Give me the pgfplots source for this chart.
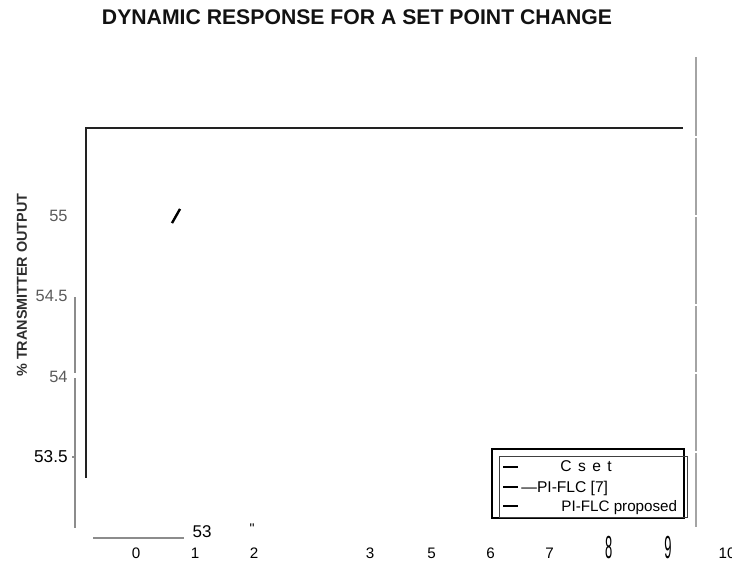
\documentclass[border=0pt]{standalone}
\usepackage{fontspec}
\setmainfont{Liberation Sans}
\usepackage{graphicx}
\usepackage{pgfplots}
\pgfplotsset{compat=1.18}

\definecolor{stepblack}{HTML}{222222}
\definecolor{framegray}{HTML}{8C8C8C}
\definecolor{framelight}{HTML}{A4A4A4}
\definecolor{ticktext}{HTML}{5A5A5A}

% Set point (Cset) trace
\pgfplotstableread{
t y
-0.846 53.369
-0.846 55.548
9.256 55.548
}\csettable

% Visible fragment of the PI-FLC [7] response
\pgfplotstableread{
t y
0.609 54.956
0.745 55.044
}\piflctable

\begin{document}
\begin{tikzpicture}
\begin{axis}[
  scale only axis,
  width=366pt, height=281.5pt,
  xmin=-2.3012, xmax=10.0846,
  ymin=52.8394, ymax=56.3450,
  axis line style={draw=none},
  major tick length=0pt,
  clip=false,
  xtick={0,1,2,3.96,5,6,7,8,9,10},
  xticklabels={0,1,2,3,5,6,7,{\scalebox{0.85}[2.1]{8}},{\scalebox{0.85}[2.1]{9}},10},
  xticklabel style={anchor=base, inner sep=0pt, yshift=2.5pt,
    font=\fontsize{7.6}{9}\selectfont},
  ytick={53.5,54,54.5,55},
  yticklabels={{\fontsize{8.6}{10}\selectfont 53.5},{\color{ticktext}54},{\color{ticktext}54.5},{\color{ticktext}55}},
  yticklabel style={anchor=east, inner sep=0pt, xshift=34pt,
    font=\fontsize{8.2}{10}\selectfont},
  ylabel={\% TRANSMITTER OUTPUT},
  ylabel style={at={(axis description cs:0.0301,0.4938)}, anchor=center,
    rotate=0, inner sep=0pt, font=\bfseries\fontsize{7.2}{8}\selectfont,
    text=black!82},
]
\addplot[stepblack, line width=1.1pt, no marks] table[x=t, y=y] {\csettable};
\addplot[black, line width=1.2pt, no marks] table[x=t, y=y] {\piflctable};
\end{axis}

% title, frame remnants, stray labels and legend, in a 0.5pt grid from the top left corner
\begin{scope}[shift={(current axis.north west)}, x=0.5pt, y=-0.5pt]
  \node[anchor=base, inner sep=0pt, font=\bfseries\fontsize{10.6}{12}\selectfont,
    text=black!93] at (357,24) {DYNAMIC RESPONSE FOR A SET POINT CHANGE};
  % right-hand rule, broken at the grid levels
  \foreach \a/\b in {57/136,138/215,217/304,306/372,374/451,453/527}
    \draw[framelight, line width=0.8pt] (696,\a) -- (696,\b);
  % left-hand rule with a notch at 53.5
  \draw[framegray, line width=0.6pt] (75,297) -- (75,373);
  \draw[framegray, line width=0.6pt] (75,378) -- (75,528);
  \draw[framegray, line width=0.6pt] (72,457) -- (75,457);
  % bottom rule piece
  \draw[framegray, line width=0.6pt] (93,538) -- (184,538);
  % stray labels near the time axis
  \node[anchor=base, inner sep=0pt, font=\fontsize{8.5}{10}\selectfont] at (202,537) {53};
  \node[anchor=base, inner sep=0pt, font=\fontsize{7}{8}\selectfont] at (252,533) {\textquotedbl};
  % legend
  \draw[black, line width=1pt] (492,449) rectangle (684,518);
  \draw[black!75, line width=0.5pt] (499,456) rectangle (687,517);
  \draw[black, line width=0.6pt] (503,467) -- (518,467);
  \draw[black, line width=0.6pt] (503,487) -- (518,487);
  \draw[black, line width=0.6pt] (503,506) -- (518,506);
  \node[anchor=base west, inner sep=0pt, font=\fontsize{7.8}{9}\selectfont]
    at (560,471) {C\hspace{3.2pt}s\hspace{3.2pt}e\hspace{3.2pt}t};
  \node[anchor=base west, inner sep=0pt, font=\fontsize{7.8}{9}\selectfont]
    at (521,492) {—PI-FLC [7]};
  \node[anchor=base west, inner sep=0pt, font=\fontsize{7.6}{9}\selectfont]
    at (561,511) {PI-FLC proposed};
\end{scope}

\pgfresetboundingbox
\path[use as bounding box] (current axis.south west) rectangle (current axis.north east);
\end{tikzpicture}
\end{document}
